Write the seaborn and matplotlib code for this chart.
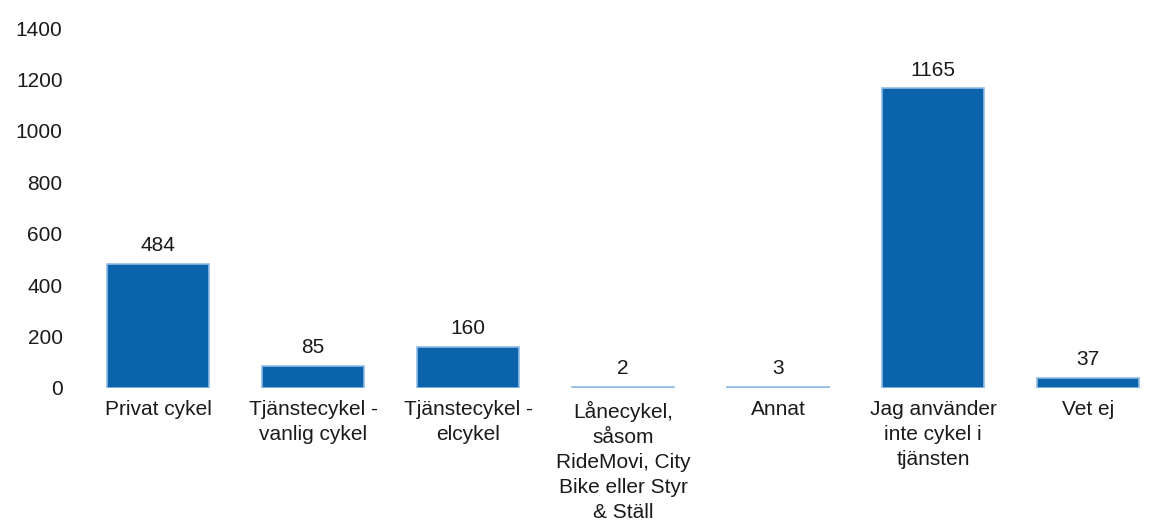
import matplotlib
matplotlib.use("Agg")
import matplotlib.pyplot as plt
import pandas as pd
import seaborn as sns

categories = [
    "Privat cykel",
    "Tjänstecykel -\nvanlig cykel",
    "Tjänstecykel -\nelcykel",
    "Lånecykel,\nsåsom\nRideMovi, City\nBike eller Styr\n& Ställ",
    "Annat",
    "Jag använder\ninte cykel i\ntjänsten",
    "Vet ej",
]
counts = [484, 85, 160, 2, 3, 1165, 37]
y_ticks = [0, 200, 400, 600, 800, 1000, 1200, 1400]

sns.set_theme(style="white")
plt.rcParams["font.family"] = ["Liberation Sans", "DejaVu Sans"]

df = pd.DataFrame({"category": categories, "count": counts})

fig = plt.figure(figsize=(11.76, 5.30), dpi=100)
ax = fig.add_axes([0.0685, 0.268, 0.9225, 0.679])
sns.barplot(data=df, x="category", y="count", color="#0B63AB", saturation=1,
            width=0.66, edgecolor="#8DBBE6", linewidth=1.2, ax=ax)

for i, v in enumerate(counts):
    ax.text(i, v + 35, str(v), ha="center", va="bottom", fontsize=15, color="#1a1a1a")

ax.set_ylim(0, 1400)
ax.set_xlim(-0.5, len(categories) - 0.5)
ax.set_yticks(y_ticks)
ax.set_xlabel("")
ax.set_ylabel("")
ax.tick_params(axis="both", length=0, labelsize=15, colors="#1a1a1a")
ax.tick_params(axis="y", pad=13)
ax.tick_params(axis="x", pad=9)
for lbl in ax.get_xticklabels():
    lbl.set_linespacing(1.4)
sns.despine(ax=ax, left=True, bottom=True)

fig.savefig("out.png", dpi=100, facecolor="white")
